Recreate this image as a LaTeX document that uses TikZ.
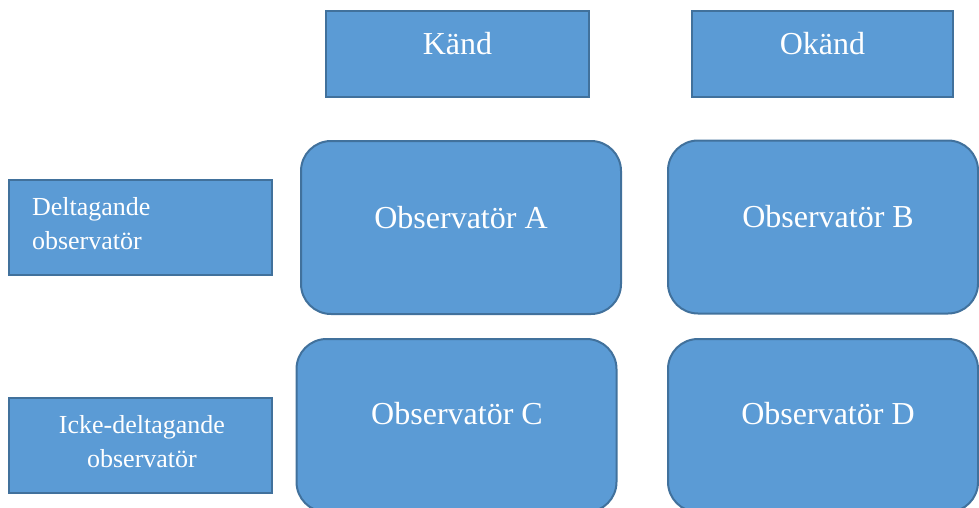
\documentclass[tikz,border=0pt]{standalone}
\usepackage{fontspec}
\setmainfont{Liberation Serif}
\usetikzlibrary{calc}
\definecolor{boxfill}{HTML}{5B9BD5}
\definecolor{boxline}{HTML}{41719C}
\tikzset{
  head/.style={draw=boxline, fill=boxfill, line width=2pt, minimum width=263pt, minimum height=86pt, inner sep=0pt},
  obs/.style={draw=boxline, fill=boxfill, line width=2pt, rounded corners=30pt, minimum width=320pt, minimum height=173pt, inner sep=0pt},
  big/.style={text=white, font=\fontsize{32}{38}\selectfont},
  small/.style={text=white, font=\fontsize{26}{34}\selectfont, align=left},
}
\begin{document}
\begin{tikzpicture}[x=1pt, y=-1pt]
  \useasboundingbox (0, 0) rectangle (979, 508);
  \clip (0, 0) rectangle (979, 508);
  \node [head] (kand) at (457.5, 54) {};
  \node [head, minimum width=261pt] (okand) at (822.5, 54) {};
  \node [head, minimum height=95pt] (delt) at (140.5, 227.5) {};
  \node [head, minimum height=95pt] (icke) at (140.5, 445) {};
  \node [obs] (obsA) at (461, 227.5) {};
  \node [obs, minimum width=310pt] (obsB) at (823, 227) {};
  \node [obs] (obsC) at (456.5, 425.5) {};
  \node [obs, minimum width=310pt] (obsD) at (823, 425.5) {};
  \node [big] (kandtxt) at ( $ (kand.center) + (0, -10) $ ) {Känd};
  \node [big] (okandtxt) at ( $ (okand.center) + (0, -10) $ ) {Okänd};
  \node [small, anchor=west] (delttxt) at (28.5, 224) {Deltagande\\observatör};
  \node [small, align=center] (icketxt) at (142, 442) {Icke-deltagande\\observatör};
  \node [big] (obsAtxt) at ( $ (obsA.center) + (0, -10) $ ) {Observatör A};
  \node [big] (obsBtxt) at (828, 217) {Observatör B};
  \node [big] (obsCtxt) at (457, 414) {Observatör C};
  \node [big] (obsDtxt) at (828, 414) {Observatör D};
\end{tikzpicture}
\end{document}
